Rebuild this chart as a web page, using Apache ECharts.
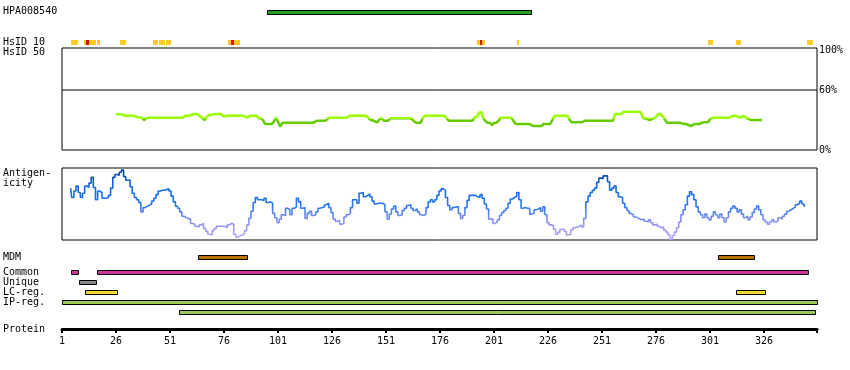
<!DOCTYPE html>
<html><head><meta charset="utf-8">
<script src="https://cdn.jsdelivr.net/npm/echarts@6/dist/echarts.min.js"></script>
<style>html,body{margin:0;padding:0;background:#fff}#c{width:850px;height:370px}</style>
</head><body><div id="c"></div><script>
// ---------- data ----------
const xMin = 1, xMax = 350.5;
const proteinTicks = [1, 26, 51, 76, 101, 126, 151, 176, 201, 226, 251, 276, 301, 326];
const proteinEnd = 350.5;

const hpaName = ['HPA008540'];
const hpaBar = [[96, 218]];

const hsid10Name = ['HsID 10'];
// [start, end, level] level 1 = partial (yellow), 2 = full (red)
const hsid10Segments = [
  [5.2, 8.4, 1], [11.2, 12.1, 1], [12.1, 13.5, 2], [13.5, 16.7, 1], [17.2, 18.6, 1],
  [27.9, 30.6, 1], [43.1, 45.4, 1], [45.9, 48.7, 1], [49.1, 51.5, 1],
  [77.9, 79.2, 1], [79.2, 80.6, 2], [80.6, 83.4, 1],
  [193.1, 194.3, 1], [194.3, 195.5, 2], [195.5, 196.6, 1],
  [211.4, 212.7, 1], [300.0, 302.3, 1], [312.9, 315.4, 1], [345.9, 348.5, 1]
];

const hsid50Start = 26;
const hsid50Threshold = 30.5;
const hsid50 = [
  35.7,35.7,35.7,35.7,
  34.3,34.3,34.3,34.3,34.3,
  33.5,32.7,32.7,32,30,32,32.3,
  32.3,32.3,32.3,32.3,32.3,32.3,32.3,32.3,32.3,32.3,32.3,32.3,32.3,32.3,32.3,32.3,
  34.3,34.3,34.3,
  35,36,36,35.5,33.3,32,30,
  33,35,35,35.5,36,36,36,35.5,33.3,
  34.3,34.3,34.3,34.3,34.3,34.3,34.3,34.3,34.3,
  33,32.5,
  34.3,34.3,34.3,34.3,
  31.7,31.7,30,26,26,26,26,28,32.7,28.3,23.3,27,
  27.3,27.3,27.3,27.3,27.3,27.3,27.3,27.3,27.3,27.3,27.3,27.3,27.3,27.3,
  28,
  29.3,29.3,29.3,29.3,29.3,
  31.5,
  32.3,32.3,32.3,32.3,32.3,32.3,32.3,32.3,32.3,
  34.3,34.3,34.3,34.3,34.3,34.3,34.3,34.3,
  34,31.5,30,29.5,28.5,27.7,31,31.7,
  29.3,29.3,29.3,
  31.7,31.7,31.7,31.7,31.7,31.7,31.7,31.7,31.7,31.7,
  31,28.5,27.3,27.3,27.3,32,
  34.3,34.3,34.3,34.3,34.3,34.3,34.3,34.3,34.3,34.3,
  32,
  29.3,29.3,29.3,29.3,29.3,29.3,29.3,29.3,29.3,29.3,29.3,29.3,
  32.7,32.7,37,38.3,31.7,29,27.3,27.3,25,27,27.3,29,
  32.3,32.3,32.3,32.3,32.3,32.3,
  29,
  26,26,26,26,26,26,26,
  25.5,
  24,24,24,24,24,
  26,26,26,26,
  30,
  34.3,34.3,34.3,34.3,34.3,34.3,34.3,
  30,
  27.7,27.7,27.7,27.7,27.7,
  28,
  29.3,29.3,29.3,29.3,29.3,29.3,29.3,29.3,29.3,29.3,29.3,29.3,29.3,29.3,
  36,36,36,36,
  38.3,38.3,38.3,38.3,38.3,38.3,38.3,38.3,
  37.5,31.7,31.7,31,30,31,31.7,33,36,36,34,31,
  27.3,27.3,27.3,27.3,27.3,27.3,27.3,
  26.5,26,26,25,24,25,26,26,26,27,
  27.7,27.7,27.7,
  31,
  32.3,32.3,32.3,32.3,32.3,32.3,32.3,32.3,32.3,
  33.5,34.3,34.3,33,32.3,34,33.5,31.7,31,
  30,30,30,30,30,30
];

const antigenicityStart = 5;
const antigenicity = [
  72,59,68,75,66,59,65,75,73,79,
  87,73,56,68,66,58,58,59,62,72,
  87,91,90,94,97,88,83,83,74,65,
  59,56,52,39,45,47,48,50,54,58,
  63,68,69,69,70,71,68,61,53,47,
  44,39,33,31,30,29,23,22,19,18,
  21,23,16,12,8,7,13,16,19,19,
  19,19,17,21,23,22,8,4,6,7,
  9,13,21,30,40,52,59,56,56,55,
  58,52,53,51,37,31,24,29,35,34,
  44,42,35,44,46,58,53,44,45,30,
  37,40,34,35,39,44,45,46,49,51,
  45,38,29,26,27,22,23,32,35,37,
  45,56,56,51,65,66,60,62,64,60,
  54,50,51,51,51,49,39,29,36,43,
  47,39,34,35,41,44,48,49,44,41,
  43,39,35,34,36,45,53,56,53,56,
  62,68,71,69,59,48,42,45,46,46,
  37,30,34,45,55,62,62,62,60,59,
  63,58,50,43,29,29,23,25,28,34,
  38,41,44,51,57,59,61,66,56,44,
  45,44,44,36,37,42,43,45,40,46,
  35,24,21,20,15,8,11,15,15,12,
  7,8,14,17,18,19,21,18,30,53,
  61,66,69,72,80,86,85,89,89,81,
  69,72,75,66,60,59,51,45,41,37,
  35,32,31,29,28,29,26,25,28,24,
  21,22,19,17,18,14,11,7,1,6,
  11,17,25,35,42,49,61,67,63,56,
  46,39,35,31,36,31,28,33,39,35,
  31,36,31,25,31,39,44,47,44,39,
  42,36,31,33,28,32,38,43,47,42,
  35,28,25,22,25,28,25,26,31,29,
  33,36,40,42,44,46,49,51,54,50,47
];

const mdmName = ['MDM'];
const mdmRegions = [[64.0, 86.5], [304.5, 321.3]];

const trackRows = ['Common', 'Unique', 'LC-reg.', 'IP-reg.', ''];
const commonRegions = [[5.3, 8.3], [17.2, 346.2]];
const uniqueRegions = [[9.0, 16.6]];
const lcRegions = [[11.5, 26.3], [313.2, 326.3]];
const ipRegions = [[1.1, 350.4]];
const ipRegions2 = [[55.3, 349.5]];

// ---------- build ----------
const FONT = '"DejaVu Sans Mono", monospace';
const rowColors = ['#cc3399', '#888888', '#eedc30', '#9ccb55', '#9ccb55'];
const antiColors = ['#b8a8ff', '#ac9ffa', '#9a98f5', '#7a8ef2', '#4e82f0', '#2577f2',
                    '#1a70f0', '#166ae8', '#125ed8', '#0a4eb8', '#053e98'];

const trackData = [];
[commonRegions, uniqueRegions, lcRegions, ipRegions, ipRegions2].forEach((arr, row) => {
  arr.forEach(r => trackData.push([r[0], r[1], row]));
});

function outlinedBar(colorFn) {
  return function (params, api) {
    const row = api.value(2);
    const p0 = api.coord([api.value(0), row]);
    const p1 = api.coord([api.value(1), row]);
    const x0 = Math.round(p0[0]) + 0.5, x1 = Math.round(p1[0]) + 0.5;
    const y0 = Math.round(p0[1] - 2) + 0.5;
    return {
      type: 'rect',
      shape: { x: x0, y: y0, width: x1 - x0, height: 4 },
      style: { fill: colorFn(row), stroke: '#000', lineWidth: 1 }
    };
  };
}

function hsidRender(params, api) {
  const p0 = api.coord([api.value(0), 0]);
  const p1 = api.coord([api.value(1), 0]);
  const x0 = Math.round(p0[0]), x1 = Math.round(p1[0]);
  return {
    type: 'rect',
    shape: { x: x0, y: Math.round(p0[1] - 2.5), width: Math.max(1, x1 - x0), height: 5 },
    style: { fill: api.value(2) === 2 ? '#dd1100' : '#ffc822' }
  };
}

const L = 62, W = 755;
const grids = [
  { left: L, width: W, top: 6, height: 11 },      // 0 HPA
  { left: L, width: W, top: 37.5, height: 10 },   // 1 HsID 10
  { left: L, width: W, top: 48, height: 102, show: true, borderColor: '#000', borderWidth: 1 }, // 2 HsID 50
  { left: L, width: W, top: 168, height: 72, show: true, borderColor: '#000', borderWidth: 1 }, // 3 antigenicity
  { left: L, width: W, top: 252, height: 10 },    // 4 MDM
  { left: L, width: W, top: 267, height: 50 },    // 5 tracks
  { left: L, width: W, top: 328, height: 1 }      // 6 protein axis
];

const hiddenX = i => ({ type: 'value', gridIndex: i, min: xMin, max: xMax, show: false });
const catLabel = { align: 'left', margin: 59, fontSize: 10, fontFamily: FONT, color: '#000', interval: 0 };
const catY = (i, data) => ({
  type: 'category', gridIndex: i, data: data, inverse: true,
  axisLine: { show: false }, axisTick: { show: false }, splitLine: { show: false },
  axisLabel: catLabel
});

const option = {
  animation: false,
  backgroundColor: '#fff',
  textStyle: { fontFamily: FONT },
  grid: grids,
  xAxis: [
    hiddenX(0), hiddenX(1), hiddenX(2), hiddenX(3), hiddenX(4), hiddenX(5),
    {
      type: 'value', gridIndex: 6, min: xMin, max: xMax, position: 'bottom',
      axisLine: { show: true, onZero: false, lineStyle: { color: '#000', width: 3 } },
      axisTick: { show: true, length: 4, lineStyle: { color: '#000', width: 2 },
        customValues: proteinTicks.concat([proteinEnd]) },
      axisLabel: { customValues: proteinTicks, margin: 7, fontSize: 10, fontFamily: FONT, color: '#000' },
      splitLine: { show: false }
    }
  ],
  yAxis: [
    catY(0, hpaName),
    catY(1, hsid10Name),
    {
      type: 'value', gridIndex: 2, min: 0, max: 102, position: 'right',
      axisLine: { show: false }, axisTick: { show: false }, splitLine: { show: false },
      axisLabel: { customValues: [0, 60, 100], formatter: '{value}%', margin: 2,
        fontSize: 10, fontFamily: FONT, color: '#000' }
    },
    { type: 'value', gridIndex: 3, min: 0, max: 100, show: false },
    catY(4, mdmName),
    catY(5, trackRows),
    { type: 'value', gridIndex: 6, min: 0, max: 1, show: false }
  ],
  series: [
    { type: 'custom', xAxisIndex: 0, yAxisIndex: 0, silent: true,
      data: hpaBar.map(b => [b[0], b[1], 0]), renderItem: outlinedBar(() => '#22a022') },
    { type: 'custom', xAxisIndex: 1, yAxisIndex: 1, silent: true,
      data: hsid10Segments, renderItem: hsidRender },
    { type: 'line', xAxisIndex: 2, yAxisIndex: 2, silent: true, showSymbol: false,
      data: hsid50.map((v, i) => [hsid50Start + i, v]),
      lineStyle: { width: 2.5, color: '#99ff00' } },
    { type: 'line', xAxisIndex: 3, yAxisIndex: 3, silent: true, showSymbol: false, step: 'middle',
      data: antigenicity.map((v, i) => [antigenicityStart + i, v]),
      lineStyle: { width: 1.6, color: '#1a70f0' } },
    { type: 'custom', xAxisIndex: 4, yAxisIndex: 4, silent: true,
      data: mdmRegions.map(b => [b[0], b[1], 0]), renderItem: outlinedBar(() => '#bb7000') },
    { type: 'custom', xAxisIndex: 5, yAxisIndex: 5, silent: true,
      data: trackData, renderItem: outlinedBar(row => rowColors[row]) },
    { type: 'line', xAxisIndex: 2, yAxisIndex: 2, silent: true, showSymbol: false,
      data: [[xMin, 60], [xMax, 60]], lineStyle: { width: 1, color: '#000' } }
  ],
  graphic: [
    ['HsID 50', 52.5], ['Antigen-', 173.5], ['icity', 183.5], ['Protein', 329.5]
  ].map(t => ({
    type: 'text', x: 3, y: t[1], silent: true,
    style: { text: t[0], fill: '#000', fontSize: 10, fontFamily: FONT, align: 'left', verticalAlign: 'middle' }
  }))
};

const chart = echarts.init(document.getElementById('c'), null, { renderer: 'canvas' });
chart.setOption(option);

// value-based colouring of the two profile lines through the y scales
try {
  const yTop50 = chart.convertToPixel({ gridIndex: 2 }, [xMin, 102])[1];
  const yBot50 = chart.convertToPixel({ gridIndex: 2 }, [xMin, 0])[1];
  const yThr = chart.convertToPixel({ gridIndex: 2 }, [xMin, hsid50Threshold])[1];
  const t = (yThr - yTop50) / (yBot50 - yTop50);
  const g50 = new echarts.graphic.LinearGradient(0, yTop50, 0, yBot50, [
    { offset: 0, color: '#99ff00' }, { offset: t, color: '#99ff00' },
    { offset: t, color: '#66cc00' }, { offset: 1, color: '#66cc00' }
  ], true);
  const yTopA = chart.convertToPixel({ gridIndex: 3 }, [xMin, 100])[1];
  const yBotA = chart.convertToPixel({ gridIndex: 3 }, [xMin, 0])[1];
  const stops = antiColors.map((c, i) => ({ offset: 1 - i / (antiColors.length - 1), color: c }));
  stops.sort((a, b) => a.offset - b.offset);
  const gA = new echarts.graphic.LinearGradient(0, yTopA, 0, yBotA, stops, true);
  chart.setOption({ series: [{}, {}, { lineStyle: { color: g50 } }, { lineStyle: { color: gA } }] });
} catch (e) { console.error(e); }
</script></body></html>
